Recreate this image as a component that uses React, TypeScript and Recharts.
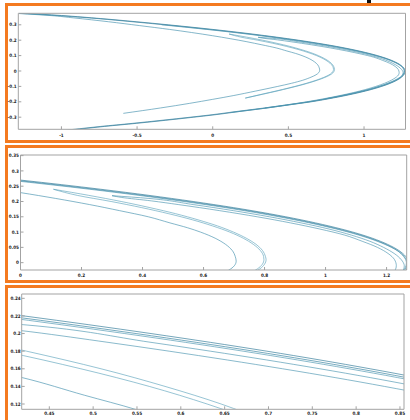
import React from 'react';
import { LineChart, Line, XAxis, YAxis } from 'recharts';

type Pt = [number, number];

// outer band of the attractor (three close strands)
const outerA1: Pt[] = [
  [-1.28, 0.377], [-1.0, 0.3605], [-0.74, 0.3405], [-0.506, 0.32], [-0.294, 0.3], [0.0, 0.27],
  [0.263, 0.24], [0.421, 0.22], [0.566, 0.2], [0.698, 0.18], [0.816, 0.16], [0.92, 0.14],
  [1.011, 0.12], [1.089, 0.1], [1.153, 0.08], [1.203, 0.06], [1.24, 0.04], [1.263, 0.02],
  [1.273, 0.0], [1.267, -0.02], [1.248, -0.04], [1.217, -0.06], [1.173, -0.08], [1.117, -0.1],
  [1.049, -0.12], [0.968, -0.14], [0.875, -0.16], [0.769, -0.18], [0.651, -0.2], [0.505, -0.22],
  [0.36, -0.24], [0.2, -0.26], [0.0, -0.286], [-0.125, -0.3], [-0.31, -0.32], [-0.505, -0.34],
  [-0.715, -0.36], [-0.905, -0.38], [-1.0, -0.39],
];
const outerA2: Pt[] = [
  [-1.28, 0.3745], [-1.0, 0.358], [-0.757, 0.34], [-0.533, 0.32], [-0.319, 0.3], [-0.023, 0.27],
  [0.242, 0.24], [0.402, 0.22], [0.549, 0.2], [0.683, 0.18], [0.803, 0.16], [0.908, 0.14],
  [1.0, 0.12], [1.08, 0.1], [1.146, 0.08], [1.197, 0.06], [1.235, 0.04], [1.258, 0.02],
  [1.268, 0.0], [1.262, -0.02], [1.245, -0.04], [1.213, -0.06], [1.168, -0.08], [1.109, -0.1],
  [1.04, -0.12], [0.957, -0.14], [0.862, -0.16], [0.755, -0.18], [0.636, -0.2], [0.488, -0.22],
  [0.342, -0.24], [0.18, -0.26], [-0.022, -0.286], [-0.148, -0.3], [-0.335, -0.32], [-0.53, -0.34],
  [-0.74, -0.36], [-0.93, -0.38], [-1.03, -0.39],
];
const outerA3: Pt[] = [
  [-0.338, 0.3], [-0.04, 0.27], [0.227, 0.24], [0.388, 0.22], [0.536, 0.2], [0.671, 0.18],
  [0.792, 0.16], [0.899, 0.14], [0.993, 0.12], [1.074, 0.1], [1.141, 0.08], [1.194, 0.06],
  [1.234, 0.04], [1.256, 0.02], [1.265, 0.0], [1.259, -0.02], [1.24, -0.04], [1.207, -0.06],
  [1.16, -0.08], [1.1, -0.1], [1.03, -0.12], [0.945, -0.14], [0.85, -0.16], [0.745, -0.18],
];

// pair folding at x~0.30 and running along the outer band
const foldB1: Pt[] = [
  [0.3, 0.219], [0.421, 0.21], [0.566, 0.19], [0.698, 0.17], [0.816, 0.15], [0.92, 0.13],
  [1.011, 0.11], [1.085, 0.09], [1.145, 0.07], [1.19, 0.05], [1.225, 0.03], [1.248, 0.01],
  [1.258, -0.01], [1.252, -0.03], [1.222, -0.05], [1.18, -0.07], [1.128, -0.09], [1.066, -0.11],
  [0.992, -0.13], [0.905, -0.15], [0.806, -0.17], [0.695, -0.19], [0.57, -0.21], [0.432, -0.23],
  [0.28, -0.25], [0.115, -0.27],
];
const foldB2: Pt[] = [
  [0.3, 0.219], [0.33, 0.2135], [0.429, 0.202], [0.517, 0.19], [0.653, 0.17], [0.776, 0.15],
  [0.885, 0.13], [0.981, 0.11], [1.063, 0.09], [1.12, 0.07], [1.17, 0.05], [1.205, 0.03],
  [1.226, 0.01], [1.232, -0.01], [1.228, -0.025], [1.213, -0.04], [1.18, -0.06], [1.135, -0.08],
  [1.078, -0.1], [1.01, -0.12], [0.93, -0.14], [0.838, -0.16], [0.735, -0.18], [0.62, -0.2],
  [0.49, -0.22], [0.345, -0.24],
];

// pair folding at x~0.11, tip near x=0.80
const foldC1: Pt[] = [
  [0.108, 0.24], [0.224, 0.22], [0.33, 0.2], [0.424, 0.18], [0.509, 0.16], [0.582, 0.14],
  [0.646, 0.12], [0.698, 0.1], [0.74, 0.08], [0.772, 0.06], [0.793, 0.04], [0.803, 0.02],
  [0.805, 0.01], [0.8, -0.005], [0.785, -0.02], [0.757, -0.035], [0.72, -0.05], [0.66, -0.07],
  [0.59, -0.09], [0.51, -0.11], [0.425, -0.13], [0.335, -0.15], [0.215, -0.176],
];
const foldC2: Pt[] = [
  [0.108, 0.24], [0.186, 0.22], [0.297, 0.2], [0.397, 0.18], [0.486, 0.16], [0.564, 0.14],
  [0.63, 0.12], [0.686, 0.1], [0.73, 0.08], [0.763, 0.06], [0.786, 0.04], [0.797, 0.02],
  [0.798, 0.01], [0.793, -0.005], [0.777, -0.02], [0.749, -0.035], [0.712, -0.05], [0.652, -0.07],
  [0.582, -0.09], [0.502, -0.11], [0.418, -0.13], [0.328, -0.15], [0.215, -0.176],
];

// inner curve, tip near x=0.707
const innerD: Pt[] = [
  [-1.28, 0.373], [-1.07, 0.36], [-0.92, 0.345], [-0.69, 0.32], [-0.485, 0.295], [-0.285, 0.27],
  [-0.14, 0.25], [0.0, 0.229], [0.115, 0.21], [0.226, 0.19], [0.325, 0.17], [0.419, 0.15],
  [0.49, 0.13], [0.548, 0.114], [0.59, 0.1], [0.638, 0.08], [0.672, 0.06], [0.694, 0.04],
  [0.704, 0.02], [0.707, 0.005], [0.701, -0.01], [0.682, -0.025], [0.65, -0.04], [0.595, -0.06],
  [0.52, -0.08], [0.43, -0.1], [0.285, -0.13], [0.135, -0.16], [0.0, -0.184], [-0.152, -0.21],
  [-0.345, -0.24], [-0.591, -0.275],
];

const curves = [
  { name: 'A1', pts: outerA1, color: '#2a7595' },
  { name: 'A2', pts: outerA2, color: '#2f7d9c' },
  { name: 'A3', pts: outerA3, color: '#4a95b0' },
  { name: 'B1', pts: foldB1, color: '#4a95b0' },
  { name: 'B2', pts: foldB2, color: '#4a95b0' },
  { name: 'C1', pts: foldC1, color: '#5ea4bc' },
  { name: 'C2', pts: foldC2, color: '#5ea4bc' },
  { name: 'D', pts: innerD, color: '#4390ad' },
];

const topXTicks = [-1, -0.5, 0, 0.5, 1];
const topYTicks = [-0.3, -0.2, -0.1, 0, 0.1, 0.2, 0.3];
const midXTicks = [0, 0.2, 0.4, 0.6, 0.8, 1, 1.2];
const midYTicks = [0, 0.05, 0.1, 0.15, 0.2, 0.25, 0.3, 0.35];
const lowXTicks = [0.45, 0.5, 0.55, 0.6, 0.65, 0.7, 0.75, 0.8, 0.85];
const lowYTicks = [0.12, 0.14, 0.16, 0.18, 0.2, 0.22, 0.24];

const BOX = '#a3a3a3';
const ORANGE = '#f47a20';
const tickFont = { fontSize: 4.6, fill: '#222', fontWeight: 700, fontFamily: '"DejaVu Sans Condensed", "DejaVu Sans", sans-serif' };

function Panel(props: any) {
  const { top, height, margin, yWidth, xHeight, xDomain, yDomain, xTicks, yTicks, xTickMargin, yTickMargin } = props;
  const common = { stroke: BOX, tickLine: { stroke: BOX }, axisLine: { stroke: BOX }, tickSize: -3, allowDataOverflow: true, interval: 0 as const };
  return (
    <div style={{ position: 'absolute', left: 0, top, width: 410, height }}>
      <LineChart width={410} height={height} margin={margin}>
        <XAxis xAxisId="b" type="number" dataKey="x" domain={xDomain} ticks={xTicks} height={xHeight}
          tickMargin={xTickMargin} tick={tickFont} {...common} />
        <XAxis xAxisId="t" orientation="top" type="number" dataKey="x" domain={xDomain} ticks={xTicks} height={1}
          tick={false} {...common} />
        <YAxis yAxisId="l" type="number" dataKey="y" domain={yDomain} ticks={yTicks} width={yWidth}
          tickMargin={yTickMargin} tick={tickFont} {...common} />
        <YAxis yAxisId="r" orientation="right" type="number" dataKey="y" domain={yDomain} ticks={yTicks} width={1}
          tick={false} {...common} />
        {curves.map(c => (
          <Line key={c.name} xAxisId="b" yAxisId="l" data={c.pts.map(([x, y]) => ({ x, y }))} dataKey="y"
            type="monotoneY" dot={false} activeDot={false} stroke={c.color} strokeWidth={0.65}
            isAnimationActive={false} />
        ))}
      </LineChart>
    </div>
  );
}

const frame = (top: number, height: number) => (
  <div style={{ position: 'absolute', left: 5, top, width: 420, height, border: `3px solid ${ORANGE}`, boxSizing: 'border-box' }} />
);

export default function App() {
  return (
    <div style={{ position: 'absolute', left: 0, top: 0, width: 410, height: 420, overflow: 'hidden', background: '#fff' }}>
      <div style={{ position: 'absolute', left: 367, top: 0, width: 4, height: 3, background: '#111' }} />
      {frame(3, 140)}
      {frame(145, 138)}
      {frame(285, 140)}
      <Panel top={0} height={143} margin={{ top: 12.3, right: 3.5, bottom: 0, left: 0 }} yWidth={18.3} xHeight={13.7}
        xDomain={[-1.285, 1.274]} yDomain={[-0.3786, 0.3747]} xTicks={topXTicks} yTicks={topYTicks}
        xTickMargin={7} yTickMargin={4.7} />
      <Panel top={145} height={138} margin={{ top: 9, right: 2.3, bottom: 0, left: 0 }} yWidth={20.5} xHeight={13}
        xDomain={[0, 1.266]} yDomain={[-0.024, 0.352]} xTicks={midXTicks} yTicks={midYTicks}
        xTickMargin={6.4} yTickMargin={4.5} />
      <Panel top={285} height={135} margin={{ top: 8, right: 5, bottom: 0, left: 0 }} yWidth={21.7} xHeight={10.7}
        xDomain={[0.4185, 0.8546]} yDomain={[0.114, 0.2449]} xTicks={lowXTicks} yTicks={lowYTicks}
        xTickMargin={5.4} yTickMargin={4} />
    </div>
  );
}
